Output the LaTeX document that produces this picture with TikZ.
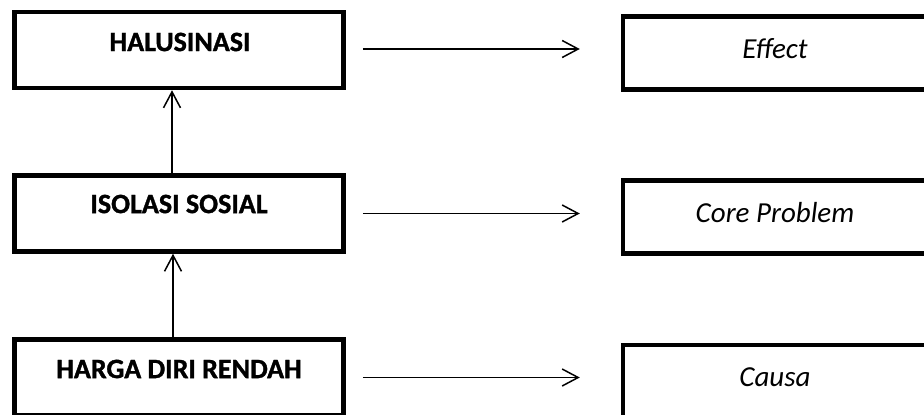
\documentclass[tikz,border=0pt]{standalone}
\usepackage{fontspec}
\setmainfont{Carlito}
\newfontfamily\heavyfont[FakeBold=1.2]{Carlito Bold}
\usetikzlibrary{arrows.meta}
\tikzset{
  leftbox/.style={draw, line width=4.5pt, minimum width=329pt, minimum height=76pt, inner sep=0pt},
  rightbox/.style={draw, line width=4.5pt, minimum width=304pt, minimum height=73pt, inner sep=0pt},
  lefttext/.style={font=\heavyfont\fontsize{28}{31}\selectfont, inner sep=0pt},
  righttext/.style={font=\fontsize{29}{32}\selectfont\itshape, inner sep=0pt},
  arr/.style={line width=1.5pt, -{Straight Barb[length=16pt,width=17pt,line width=1.5pt]}}
}
\begin{document}
\begin{tikzpicture}[x=1pt,y=-1pt]
\clip (0,0) rectangle (924,415);
\fill[white] (0,0) rectangle (924,415);
\node[leftbox] (hal) at (179,50) {};
\node[leftbox] (iso) at (179,213.5) {};
\node[leftbox] (hdr) at (179,377.5) {};
\node[rightbox] (eff) at (775,53) {};
\node[rightbox] (core) at (775,217) {};
\node[rightbox] (cau) at (775,381.5) {};
\node[lefttext] (thal) at (180,42) {HALUSINASI};
\node[lefttext] (tiso) at (179,204) {ISOLASI SOSIAL};
\node[lefttext] (thdr) at (179,369) {HARGA DIRI RENDAH};
\node[righttext] (teff) at (775,48.5) {Effect};
\node[righttext] (tcore) at (775,212.5) {Core Problem};
\node[righttext] (tcau) at (775,377) {Causa};
\draw[arr] ([xshift=-7pt]iso.north) -- ([xshift=-7pt]hal.south);
\draw[arr] ([xshift=-6pt]hdr.north) -- ([xshift=-6pt]iso.south);
\draw[arr] ([xshift=17pt,yshift=1pt]hal.east) -- ([xshift=-41pt,yshift=1pt]eff.west |- hal.east);
\draw[arr] ([xshift=17pt]iso.east) -- ([xshift=-41pt]core.west |- iso.east);
\draw[arr] ([xshift=17pt]hdr.east) -- ([xshift=-41pt]cau.west |- hdr.east);
\end{tikzpicture}
\end{document}
